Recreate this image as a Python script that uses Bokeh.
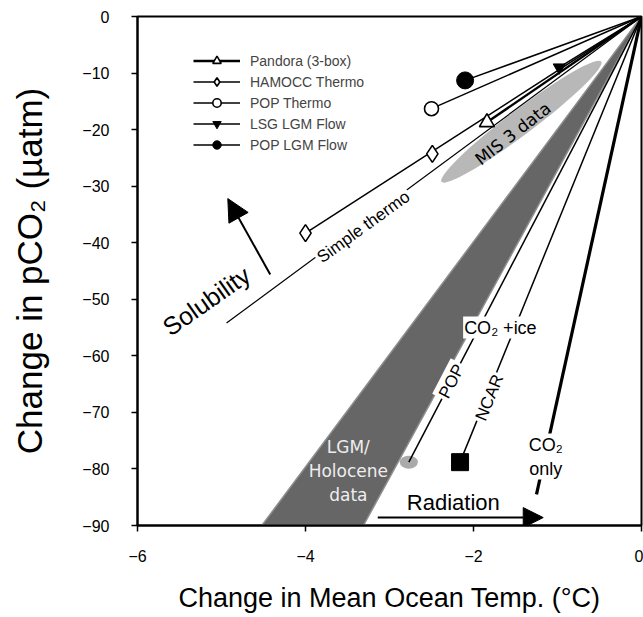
import numpy as np
from bokeh.plotting import figure
from bokeh.models import Label, Arrow, NormalHead, Legend, LegendItem, Range1d, FixedTicker
from bokeh.embed import file_html
from bokeh.resources import INLINE

# ---------------- data ----------------
x_ticks = [-6, -4, -2, 0]
y_ticks = [0, -10, -20, -30, -40, -50, -60, -70, -80, -90]

origin_x = [0.0]
origin_y = [0.0]

pandora_x = [-1.84]
pandora_y = [-18.7]
hamocc_x = [-4.0, -2.49]
hamocc_y = [-38.3, -24.3]
pop_thermo_x = [-2.5]
pop_thermo_y = [-16.3]
lsg_flow_x = [-0.98]
lsg_flow_y = [-9.0]
pop_flow_x = [-2.1]
pop_flow_y = [-11.3]

simple_thermo_x = [-4.94]
simple_thermo_y = [-54.2]

pop_rad_x = [-2.77]
pop_rad_y = [-78.8]
ncar_rad_x = [-2.16]
ncar_rad_y = [-78.8]
co2_only_x = [-1.25]
co2_only_y = [-84.5]

lgm_wedge_x = [0.0, -4.52, -3.31]
lgm_wedge_y = [0.0, -90.0, -90.0]

mis3_x = [-1.43]
mis3_y = [-18.6]

solubility_arrow = [-4.42, -45.6, -4.925, -32.2]
radiation_arrow = [-3.14, -88.6, -1.17, -88.6]

FONT = "Liberation Sans"
ALT = "DejaVu Sans"

p = figure(width=643, height=617, output_backend="svg", toolbar_location=None,
           x_range=Range1d(-6, 0), y_range=Range1d(-90, 0),
           min_border_left=137, min_border_right=2, min_border_top=16, min_border_bottom=92)
p.background_fill_color = "white"
p.border_fill_color = "white"
p.outline_line_color = "black"
p.outline_line_width = 2
p.grid.visible = False

for ax in (p.xaxis, p.yaxis):
    ax.axis_line_width = 2
    ax.major_tick_line_width = 1.5
    ax.major_tick_out = 6
    ax.major_tick_in = 0
    ax.minor_tick_line_color = None
    ax.major_label_text_font = FONT
    ax.major_label_text_font_size = "16px"
    ax.major_label_text_color = "black"
    ax.axis_label_text_font = FONT
    ax.axis_label_text_font_style = "normal"
    ax.axis_label_text_color = "black"

p.xaxis.ticker = FixedTicker(ticks=x_ticks)
p.yaxis.ticker = FixedTicker(ticks=y_ticks)
p.xaxis.axis_label = "Change in Mean Ocean Temp. (°C)"
p.yaxis.axis_label = "Change in pCO₂ (µatm)"
p.xaxis.axis_label_text_font_size = "27px"
p.yaxis.axis_label_text_font_size = "35px"
p.xaxis.major_label_standoff = 18
p.yaxis.major_label_standoff = 22
p.xaxis.axis_label_standoff = 18
p.yaxis.axis_label_standoff = 30

# shaded regions
p.patch(lgm_wedge_x, lgm_wedge_y, fill_color="#666666", line_color="#8f8f8f", line_width=1.5)
p.ellipse(x=mis3_x, y=mis3_y, width=200, height=25, width_units="screen", height_units="screen",
          angle=np.deg2rad(37), fill_color="#b8b8b8", line_color=None)
p.ellipse(x=pop_rad_x, y=pop_rad_y, width=18, height=13, width_units="screen", height_units="screen",
          fill_color="#aaaaaa", line_color=None)

# radiation lines
p.segment(x0=pop_rad_x, y0=pop_rad_y, x1=origin_x, y1=origin_y, line_color="black", line_width=1.5)
p.segment(x0=ncar_rad_x, y0=ncar_rad_y, x1=origin_x, y1=origin_y, line_color="black", line_width=1.5)
p.segment(x0=co2_only_x, y0=co2_only_y, x1=origin_x, y1=origin_y, line_color="black", line_width=3.2)
p.scatter(ncar_rad_x, ncar_rad_y, marker="square", size=17, fill_color="black", line_color="black")

# solubility lines
p.segment(x0=simple_thermo_x, y0=simple_thermo_y, x1=origin_x, y1=origin_y, line_color="black", line_width=1.2)

r_pan_l = p.segment(x0=pandora_x, y0=pandora_y, x1=origin_x, y1=origin_y, line_color="black", line_width=2.4)
r_ham_l = p.segment(x0=hamocc_x[:1], y0=hamocc_y[:1], x1=origin_x, y1=origin_y, line_color="black", line_width=1.5)
r_popt_l = p.segment(x0=pop_thermo_x, y0=pop_thermo_y, x1=origin_x, y1=origin_y, line_color="black", line_width=1.5)
r_lsg_l = p.segment(x0=lsg_flow_x, y0=lsg_flow_y, x1=origin_x, y1=origin_y, line_color="black", line_width=1.5)
r_popf_l = p.segment(x0=pop_flow_x, y0=pop_flow_y, x1=origin_x, y1=origin_y, line_color="black", line_width=1.5)

r_pan_m = p.scatter(pandora_x, pandora_y, marker="triangle", size=15, fill_color="white", line_color="black", line_width=1.6)
r_ham_m = p.scatter(hamocc_x, hamocc_y, marker="diamond", size=17, fill_color="white", line_color="black", line_width=1.6)
r_popt_m = p.scatter(pop_thermo_x, pop_thermo_y, marker="circle", size=14, fill_color="white", line_color="black", line_width=1.6)
r_lsg_m = p.scatter(lsg_flow_x, lsg_flow_y, marker="inverted_triangle", size=12, fill_color="black", line_color="black")
r_popf_m = p.scatter(pop_flow_x, pop_flow_y, marker="circle", size=17, fill_color="black", line_color="black")
p.scatter(origin_x, origin_y, marker="circle", size=9, fill_color="black", line_color="black")

# legend
legend = Legend(items=[
    LegendItem(label="Pandora (3-box)", renderers=[r_pan_l, r_pan_m]),
    LegendItem(label="HAMOCC Thermo", renderers=[r_ham_l, r_ham_m]),
    LegendItem(label="POP Thermo", renderers=[r_popt_l, r_popt_m]),
    LegendItem(label="LSG LGM Flow", renderers=[r_lsg_l, r_lsg_m]),
    LegendItem(label="POP LGM Flow", renderers=[r_popf_l, r_popf_m]),
], location=(56, 370), glyph_width=47, glyph_height=21, spacing=0, padding=0, margin=0,
    label_standoff=10, label_height=21, label_text_font=FONT, label_text_font_size="14px",
    background_fill_alpha=0, border_line_color=None)
p.add_layout(legend)

# arrows
sa = solubility_arrow
p.add_layout(Arrow(end=NormalHead(size=22, fill_color="black", line_color="black"),
                   x_start=sa[0], y_start=sa[1], x_end=sa[2], y_end=sa[3],
                   line_color="black", line_width=2))
ra = radiation_arrow
p.add_layout(Arrow(end=NormalHead(size=20, fill_color="black", line_color="black"),
                   x_start=ra[0], y_start=ra[1], x_end=ra[2], y_end=ra[3],
                   line_color="black", line_width=2))

# text labels
def lab(x, y, text, size, angle=0.0, font=FONT, color="black", bg=None, pad=2):
    kw = dict(x=x, y=y, text=text, angle=np.deg2rad(angle), text_font=font,
              text_font_size=size, text_color=color, text_align="center",
              text_baseline="middle")
    if bg is not None:
        kw.update(background_fill_color=bg, padding=pad)
    p.add_layout(Label(**kw))

lab(-3.31, -37.2, "Simple thermo", "17px", angle=36, bg="white")
lab(-1.53, -20.7, "MIS 3 data", "17px", angle=38, font=ALT)
lab(-5.18, -50.3, "Solubility", "25px", angle=35)
lab(-2.24, -85.9, "Radiation", "22px")
lab(-1.68, -55.0, "CO₂ +ice", "18px", bg="white", pad=1)
lab(-2.26, -64.5, "POP", "17px", angle=62.4, bg="white")
lab(-1.81, -67.4, "NCAR", "17px", angle=67.9, bg="white")
lab(-1.14, -77.8, "CO₂\nonly", "18px", bg="white", pad=1)
lab(-3.49, -80.3, "LGM/\nHolocene\ndata", "17px", font=ALT, color="#eeeeee")

open("out.html", "w").write(file_html(p, INLINE))
